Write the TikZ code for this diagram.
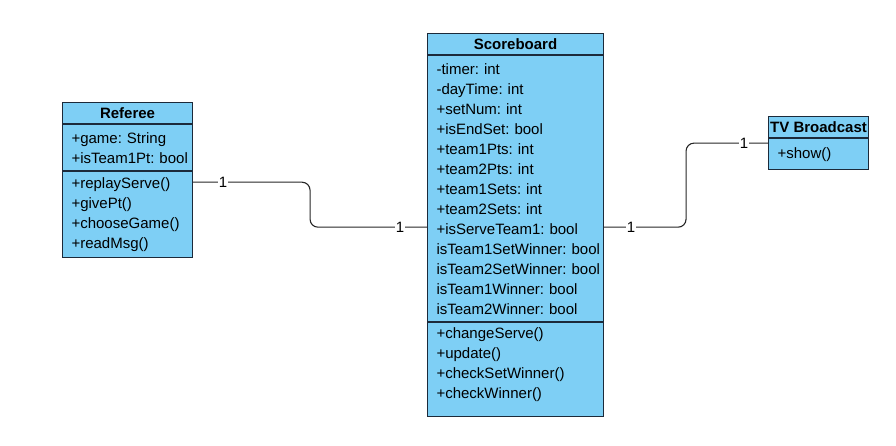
\documentclass[tikz,border=0pt]{standalone}
\usepackage{fontspec}
\setmainfont{Liberation Sans}
\usetikzlibrary{calc,positioning}

\definecolor{umlblue}{RGB}{126,207,245}
\definecolor{umlline}{RGB}{28,42,58}

\tikzset{
    classtitle/.style={draw=umlline, fill=umlblue, line width=1.1pt, anchor=north west,
        minimum height=21pt, inner sep=0pt, font=\fontsize{15}{20}\selectfont\bfseries},
    classpart/.style={draw=umlline, fill=umlblue, line width=1.1pt, anchor=north,
        align=left, inner xsep=9pt, inner ysep=0pt, font=\fontsize{15}{20}\selectfont},
    assoc/.style={draw=black!85, line width=1.1pt, rounded corners=8pt},
    mult/.style={fill=white, inner sep=1pt, font=\fontsize{15}{15}\selectfont}
}

\begin{document}
\frenchspacing
\begin{tikzpicture}[x=1pt, y=-1pt]
    \useasboundingbox (0,0) rectangle (896,446);

    % Referee
    \node (refName) [classtitle, minimum width=130pt] at (62,102) {Referee};
    \node (refAttr) [classpart, text width=112pt, minimum height=46pt] at (refName.south)
        {+game:~String\\+isTeam1Pt:~bool};
    \node (refMeth) [classpart, text width=112pt, minimum height=86pt] at (refAttr.south)
        {+replayServe()\\+givePt()\\+chooseGame()\\+readMsg()};

    % Scoreboard
    \node (sbName) [classtitle, minimum width=176pt] at (427,33) {Scoreboard};
    \node (sbAttr) [classpart, text width=158pt, minimum height=266pt] at (sbName.south)
        {-timer:~int\\-dayTime:~int\\+setNum:~int\\+isEndSet:~bool\\+team1Pts:~int\\
         +team2Pts:~int\\+team1Sets:~int\\+team2Sets:~int\\+isServeTeam1:~bool\\
         isTeam1SetWinner:~bool\\isTeam2SetWinner:~bool\\isTeam1Winner:~bool\\isTeam2Winner:~bool};
    \node (sbMeth) [classpart, text width=158pt, minimum height=94pt] at (sbAttr.south)
        {+changeServe()\\+update()\\+checkSetWinner()\\+checkWinner()\\[-6pt]\mbox{}};

    % TV Broadcast
    \node (tvName) [classtitle, minimum width=100pt] at (768,116) {TV Broadcast};
    \node (tvMeth) [classpart, text width=82pt, minimum height=31pt] at (tvName.south)
        {+show()};

    % associations
    \coordinate (refOut) at ([yshift=-11pt]refMeth.north east);
    \coordinate (sbIn) at ([yshift=95pt]sbMeth.north west);
    \coordinate (sbOut) at ([yshift=95pt]sbMeth.north east);
    \coordinate (tvIn) at ([yshift=-5pt]tvMeth.north west);

    \draw[assoc] (refOut) -| ($(refOut)!0.5!(sbIn)$) |- (sbIn);
    \draw[assoc] (sbOut) -| ($(sbOut)!0.5!(tvIn)$) |- (tvIn);

    \node[mult] at ([xshift=30pt]refOut) {1};
    \node[mult] at ([xshift=-27pt]sbIn) {1};
    \node[mult] at ([xshift=27pt]sbOut) {1};
    \node[mult] at ([xshift=-24pt]tvIn) {1};
\end{tikzpicture}
\end{document}
